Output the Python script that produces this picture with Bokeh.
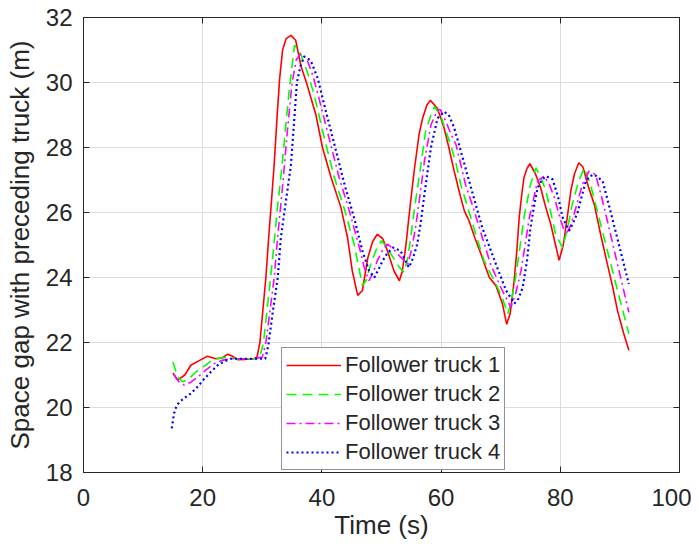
from bokeh.plotting import figure
from bokeh.models import Range1d, FixedTicker, LinearAxis, Legend, LegendItem
from bokeh.embed import file_html
from bokeh.resources import INLINE

# ---- data ----
t1 = [15.0, 15.8, 17.0, 18.0, 19.5, 20.8, 22.2, 23.2, 24.2, 25.0, 25.9, 27.0, 28.6, 29.1, 29.6, 30.1,
      30.6, 31.1, 31.6, 32.0, 32.5, 32.9, 33.4, 34.0, 34.8, 35.6, 36.5, 37.4, 39.0, 40.1, 41.5, 43.2,
      44.3, 45.1, 46.0, 46.8, 47.7, 48.5, 49.3, 50.2, 51.0, 52.1, 53.0, 53.5, 54.1, 54.8, 55.5, 56.3,
      56.9, 57.6, 58.2, 59.4, 60.5, 61.3, 62.2, 63.1, 63.9, 64.7, 65.7, 66.7, 67.4, 68.1, 69.2, 70.3,
      71.0, 71.6, 72.2, 72.7, 73.1, 73.5, 73.9, 74.4, 74.9, 75.8, 76.7, 77.5, 78.4, 79.2, 79.8, 80.5,
      81.2, 81.8, 82.4, 83.1, 83.8, 84.7, 85.7, 86.8, 87.9, 88.8, 89.6, 90.6, 91.5]
v1 = [21.06, 20.84, 21.0, 21.3, 21.45, 21.58, 21.5, 21.52, 21.64, 21.58, 21.47, 21.48, 21.5, 21.55, 22.0, 23.0,
      24.0, 25.3, 26.5, 27.5, 29.0, 30.1, 31.0, 31.35, 31.45, 31.3, 30.5, 30.0, 29.0, 28.0, 27.1, 26.15,
      25.23, 24.2, 23.45, 23.6, 24.6, 25.1, 25.33, 25.2, 24.82, 24.2, 23.9, 24.2, 25.0, 26.2, 27.3, 28.4,
      28.9, 29.3, 29.45, 29.2, 28.6, 28.0, 27.27, 26.6, 26.05, 25.74, 25.2, 24.72, 24.35, 24.0, 23.75, 23.19,
      22.56, 22.9, 23.8, 24.8, 25.84, 26.5, 27.07, 27.35, 27.5, 27.2, 26.76, 26.2, 25.64, 25.0, 24.53, 25.0,
      25.9, 26.7, 27.2, 27.53, 27.4, 26.8, 26.25, 25.3, 24.41, 23.7, 22.98, 22.3, 21.76]

t2 = [15.0, 15.8, 16.6, 17.5, 18.9, 20.5, 21.9, 23.0, 24.2, 25.5, 27.0, 29.5, 30.2, 30.8, 31.4, 32.0,
      32.6, 33.3, 34.0, 34.6, 35.4, 36.5, 37.6, 38.7, 40.4, 42.1, 43.7, 45.4, 46.3, 46.8, 47.4, 48.2,
      49.1, 50.0, 50.8, 51.6, 53.0, 53.8, 54.4, 54.9, 55.6, 56.3, 57.4, 58.3, 58.9, 60.0, 60.8, 61.6,
      62.5, 63.3, 64.3, 65.3, 66.2, 67.2, 68.2, 69.2, 70.3, 71.2, 71.8, 72.5, 73.2, 73.9, 75.0, 75.9,
      76.7, 77.6, 78.4, 79.2, 80.4, 81.2, 82.0, 83.1, 84.0, 85.0, 86.2, 87.9, 89.6, 91.5]
v2 = [21.4, 20.95, 20.79, 20.85, 21.1, 21.3, 21.5, 21.52, 21.55, 21.5, 21.5, 21.5, 22.0, 23.0, 24.0, 25.1,
      26.25, 27.4, 28.8, 29.9, 31.15, 30.85, 30.3, 29.62, 28.29, 27.07, 26.15, 25.03, 24.21, 23.75, 23.9, 24.41,
      24.85, 25.13, 24.95, 24.72, 24.31, 24.16, 24.6, 25.23, 26.2, 27.07, 28.5, 29.0, 29.26, 28.95, 28.5, 28.09,
      27.5, 26.86, 26.25, 25.64, 25.1, 24.52, 24.15, 23.8, 23.35, 22.88, 23.3, 24.0, 24.9, 25.84, 26.86, 27.37,
      27.1, 26.66, 26.0, 25.33, 24.92, 25.5, 26.25, 26.97, 27.37, 26.9, 26.05, 24.82, 23.6, 22.27]

t3 = [15.2, 16.0, 16.9, 18.0, 19.2, 20.5, 21.9, 23.2, 24.7, 26.5, 28.5, 30.0, 30.6, 31.3, 32.0, 32.6,
      33.4, 34.2, 35.0, 35.7, 36.5, 37.5, 38.5, 39.5, 41.2, 42.9, 44.6, 46.3, 47.1, 47.9, 48.6, 49.3,
      50.2, 51.0, 51.9, 52.7, 54.4, 55.1, 55.8, 56.5, 57.2, 58.3, 59.4, 59.9, 60.8, 61.7, 62.5, 64.1,
      65.3, 66.4, 68.3, 70.0, 71.7, 72.5, 73.4, 74.1, 74.8, 76.2, 77.3, 78.2, 79.0, 80.0, 80.9, 81.6,
      82.3, 83.7, 84.8, 85.9, 86.9, 87.9, 89.6, 91.5]
v3 = [21.0, 20.8, 20.69, 20.78, 20.94, 21.15, 21.35, 21.45, 21.5, 21.5, 21.5, 21.55, 22.0, 23.0, 24.0, 25.3,
      26.8, 28.5, 30.0, 30.7, 30.9, 30.7, 30.2, 29.52, 28.29, 27.07, 26.05, 24.92, 24.31, 23.9, 24.15, 24.52,
      24.85, 25.03, 24.9, 24.72, 24.41, 24.9, 25.64, 26.6, 27.58, 28.7, 29.16, 29.16, 28.8, 28.4, 28.09, 26.86,
      26.2, 25.54, 24.41, 23.7, 23.08, 23.5, 24.2, 25.0, 25.84, 26.97, 27.12, 26.85, 26.46, 25.8, 25.3, 25.55,
      25.94, 26.86, 27.27, 27.17, 26.5, 25.74, 24.41, 22.93]

t4 = [14.8, 15.2, 15.6, 16.1, 17.0, 18.0, 19.2, 20.3, 21.4, 22.5, 23.6, 24.7, 26.5, 28.5, 30.5, 31.0,
      31.8, 32.6, 33.1, 34.0, 34.8, 35.3, 35.8, 36.4, 37.0, 37.6, 38.2, 39.3, 40.4, 42.1, 43.8, 45.4,
      46.8, 47.9, 48.8, 49.5, 50.2, 51.0, 51.9, 53.2, 54.6, 55.3, 56.0, 56.6, 57.2, 58.3, 59.4, 60.5,
      61.3, 62.2, 63.0, 64.7, 66.9, 69.2, 70.9, 72.3, 73.0, 73.7, 74.4, 75.0, 75.6, 76.2, 76.9, 77.6,
      78.7, 79.6, 80.4, 81.5, 82.2, 82.9, 83.6, 84.3, 85.0, 85.7, 87.1, 88.7, 90.1, 91.5]
v4 = [19.36, 19.82, 20.05, 20.17, 20.3, 20.43, 20.65, 20.89, 21.1, 21.3, 21.42, 21.5, 21.5, 21.5, 21.5, 21.9,
      23.0, 24.0, 25.2, 26.4, 27.46, 28.7, 30.0, 30.5, 30.8, 30.75, 30.64, 30.13, 29.31, 28.09, 26.86, 25.84,
      24.82, 24.21, 24.0, 24.25, 24.52, 24.75, 24.92, 24.82, 24.31, 24.6, 25.03, 25.7, 26.56, 28.0, 28.9, 29.1,
      29.0, 28.6, 28.09, 26.97, 25.54, 24.41, 23.6, 23.2, 23.35, 23.7, 24.5, 25.54, 26.2, 26.76, 27.0, 27.12,
      27.02, 26.5, 25.84, 25.44, 25.7, 26.0, 26.5, 26.97, 27.12, 27.17, 26.97, 25.84, 24.82, 23.8]

labels = ["Follower truck 1", "Follower truck 2", "Follower truck 3", "Follower truck 4"]
x_ticks = [0, 20, 40, 60, 80, 100]
y_ticks = [18, 20, 22, 24, 26, 28, 30, 32]

FONT = "Liberation Sans"
AX = "#262626"

p = figure(width=691, height=542, output_backend="svg", toolbar_location=None,
           x_range=Range1d(0, 100), y_range=Range1d(18, 32),
           min_border_left=83, min_border_right=12, min_border_top=17, min_border_bottom=68)
p.background_fill_color = "white"
p.border_fill_color = "white"
p.outline_line_color = AX
p.outline_line_width = 1

for ax in (p.xaxis[0], p.yaxis[0]):
    ax.major_label_text_font = FONT
    ax.major_label_text_font_size = "24px"
    ax.major_label_text_color = AX
    ax.axis_label_text_font = FONT
    ax.axis_label_text_font_size = "26px"
    ax.axis_label_text_font_style = "normal"
    ax.axis_label_text_color = AX
    ax.axis_line_color = AX
    ax.major_tick_line_color = AX
    ax.major_tick_in = 6
    ax.major_tick_out = 0
    ax.minor_tick_line_color = None

p.xaxis[0].ticker = FixedTicker(ticks=x_ticks)
p.yaxis[0].ticker = FixedTicker(ticks=y_ticks)
p.xaxis[0].axis_label = "Time (s)"
p.yaxis[0].axis_label = "Space gap with preceding truck (m)"
p.xaxis[0].major_label_standoff = 16
p.yaxis[0].major_label_standoff = 11
p.xaxis[0].axis_label_standoff = 1
p.yaxis[0].axis_label_standoff = 8

for loc, tk in (("right", y_ticks), ("above", x_ticks)):
    a = LinearAxis(ticker=FixedTicker(ticks=tk))
    a.major_label_text_font_size = "0px"
    a.major_label_text_color = None
    a.major_label_standoff = 0
    a.axis_line_color = AX
    a.major_tick_line_color = AX
    a.major_tick_in = 6
    a.major_tick_out = 0
    a.minor_tick_line_color = None
    p.add_layout(a, loc)

p.xgrid.ticker = FixedTicker(ticks=x_ticks)
p.ygrid.ticker = FixedTicker(ticks=y_ticks)
p.grid.grid_line_color = "#dcdcdc"
p.grid.grid_line_width = 1

r1 = p.line(t1, v1, line_color="#ff0000", line_width=1.6)
r2 = p.line(t2, v2, line_color="#00ff00", line_width=1.6, line_dash="10 6")
r3 = p.line(t3, v3, line_color="#ff00ff", line_width=1.6, line_dash="9 4 2 4")
r4 = p.line(t4, v4, line_color="#0000ff", line_width=2.2, line_dash="2 3")

legend = Legend(items=[LegendItem(label=l, renderers=[r]) for l, r in zip(labels, [r1, r2, r3, r4])],
                location=(198, 2))
legend.margin = 0
legend.padding = 4
legend.spacing = 3
legend.glyph_width = 55
legend.glyph_height = 22
legend.label_height = 22
legend.label_standoff = 4
legend.label_text_font = FONT
legend.label_text_font_size = "22px"
legend.label_text_color = AX
legend.border_line_color = AX
legend.border_line_width = 1
legend.background_fill_alpha = 1.0
p.add_layout(legend)

open("out.html", "w").write(file_html(p, INLINE))
